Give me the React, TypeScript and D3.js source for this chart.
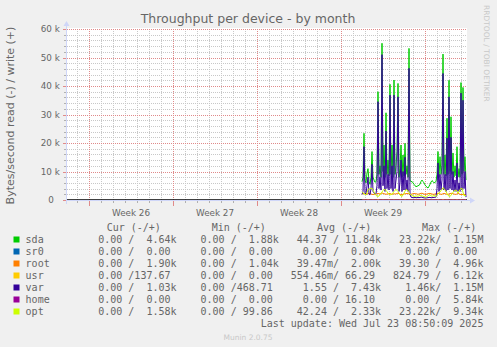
import React from "react";
import * as d3 from "d3";

const W = 497;
const H = 347;

// ---- axis ticks ----
const yTicks = [0, 10000, 20000, 30000, 40000, 50000, 60000];
const yTickLabels = ["0", "10 k", "20 k", "30 k", "40 k", "50 k", "60 k"];
const weekStarts = ["2025-06-23", "2025-06-30", "2025-07-07", "2025-07-14", "2025-07-21"];
const weekLabels = ["Week 26", "Week 27", "Week 28", "Week 29"];

// ---- time range / data sampling ----
const rangeStart = "2025-06-21T04:00:00Z";
const rangeEnd = "2025-07-24T12:00:00Z";
const dataStart = "2025-07-15T18:00:00Z";
const stepHours = 2;

// ---- series values (write, in k bytes/s), one value every 2 hours ----
const sdaWrite = [
  6.4, 8.0, 23.4, 7.0, 6.0, 9.5, 11.0, 6.5, 5.5, 8.0, 17.0, 8.0, 7.0, 6.2, 6.5,
  9.0, 38.0, 9.0, 12.0, 8.0, 55.0, 10.0, 19.3, 8.0, 30.6, 9.0, 14.0, 8.5, 40.6, 9.0,
  19.3, 8.0, 42.1, 9.0, 12.0, 17.0, 40.9, 8.0, 11.0, 19.3, 8.0, 15.8, 8.5, 19.9, 9.0,
  12.0, 8.0, 53.2, 7.0, 6.4, 6.5, 6.0, 5.5, 5.0, 4.7, 4.8, 5.0, 5.2, 5.5, 6.5,
  7.0, 6.5, 6.0, 5.3, 4.8, 4.5, 4.2, 4.8, 5.5, 6.3, 6.8, 6.5, 6.0, 6.2, 6.5,
  9.0, 17.0, 8.0, 15.2, 9.0, 12.0, 51.2, 9.0, 15.8, 8.5, 28.7, 9.0, 42.0, 10.0, 29.2,
  9.0, 16.5, 8.0, 12.0, 8.5, 18.7, 8.0, 11.0, 8.0, 41.2, 9.0, 39.5, 10.0, 15.2, 7.0,
];
const varWrite = [
  2.0, 3.0, 18.7, 2.5, 2.0, 5.0, 8.0, 2.0, 1.8, 4.0, 12.5, 3.0, 2.5, 2.0, 2.2,
  5.0, 34.5, 4.0, 8.0, 3.5, 51.0, 5.0, 12.0, 3.0, 24.2, 4.0, 9.0, 3.5, 36.8, 4.0,
  12.0, 3.0, 36.8, 4.0, 7.0, 10.0, 36.2, 3.0, 6.0, 14.0, 3.0, 10.0, 3.5, 15.0, 3.5,
  7.0, 3.0, 46.2, 2.0, 1.0, 0.9, 0.8, 0.8, 0.9, 0.8, 0.8, 0.9, 0.8, 0.9, 1.0,
  1.0, 0.8, 0.8, 0.7, 0.7, 0.8, 0.8, 0.9, 0.9, 0.8, 0.8, 0.9, 0.9, 1.0, 1.0,
  4.0, 13.0, 3.0, 9.0, 3.5, 7.0, 44.4, 3.5, 9.0, 3.0, 21.7, 3.5, 36.2, 4.0, 22.0,
  3.5, 10.0, 3.0, 7.0, 3.0, 13.0, 3.0, 6.0, 3.0, 37.5, 3.5, 35.0, 4.0, 10.0, 1.0,
];
const optWrite = [
  2.9, 2.5, 2.2, 2.0, 1.8, 2.6, 3.6, 3.9, 4.0, 4.1, 4.1, 3.5, 2.8, 2.2, 1.6,
  1.4, 1.2, 1.5, 1.8, 2.3, 2.8, 3.3, 3.7, 3.6, 3.4, 2.9, 2.4, 2.0, 1.8, 1.9,
  2.0, 2.5, 3.0, 3.4, 3.7, 3.4, 3.0, 2.4, 1.8, 1.4, 1.2, 1.8, 2.4, 3.1, 3.7,
  3.5, 3.2, 2.6, 2.0, 1.8, 1.6, 1.4, 1.2, 1.3, 1.4, 1.4, 1.3, 1.5, 1.6, 1.5,
  1.5, 1.3, 1.2, 1.1, 1.0, 1.2, 1.5, 1.7, 1.8, 1.5, 1.3, 1.4, 1.6, 1.4, 1.2,
  1.7, 2.2, 2.5, 2.8, 3.3, 3.8, 4.3, 4.0, 3.5, 3.0, 2.3, 1.6, 1.4, 1.2, 1.7,
  2.2, 2.7, 3.2, 3.4, 3.5, 3.0, 2.4, 3.0, 3.6, 4.1, 4.1, 2.8, 1.5, 1.6, 1.6,
];
const rootWrite = [
  2.1, 2.2, 2.3, 2.1, 2.0, 2.1, 2.2, 2.4, 2.3, 2.1, 2.0, 1.9, 2.0, 2.1, 2.0,
  2.2, 2.3, 2.2, 2.1, 2.3, 2.5, 2.3, 2.2, 2.1, 2.0, 2.1, 2.1, 2.2, 2.3, 2.1,
  2.0, 2.1, 2.2, 2.1, 2.1, 2.3, 2.4, 2.2, 2.0, 1.9, 1.9, 2.0, 2.1, 2.2, 2.2,
  2.3, 2.3, 2.1, 2.0, 2.0, 2.1, 2.2, 2.3, 2.2, 2.2, 2.1, 2.0, 2.1, 2.2, 2.3,
  2.4, 2.2, 2.1, 2.0, 2.0, 2.1, 2.2, 2.3, 2.3, 2.2, 2.1, 2.0, 2.0, 2.1, 2.2,
  2.3, 2.4, 2.2, 2.1, 2.0, 2.0, 2.2, 2.3, 2.2, 2.1, 2.0, 2.0, 2.1, 2.2, 2.4,
  2.3, 2.2, 2.1, 2.0, 2.0, 2.1, 2.3, 2.2, 2.0, 1.9, 1.9, 2.0, 2.0, 1.9, 1.9,
];
const usrWrite = [
  0.0, 0.0, 0.1, 0.0, 0.0, 0.0, 0.2, 0.0, 0.0, 0.0, 0.0, 0.1, 0.0, 0.0, 0.0,
  0.0, 0.3, 0.0, 0.0, 0.0, 0.0, 0.1, 0.0, 0.0, 0.0, 0.0, 0.0, 0.2, 0.0, 0.0,
  0.0, 0.0, 0.1, 0.0, 0.0, 0.0, 0.0, 0.0, 0.1, 0.0, 0.0, 0.0, 0.0, 0.2, 0.0,
  0.0, 0.0, 0.1, 0.0, 0.0, 0.0, 0.0, 0.0, 0.0, 0.1, 0.0, 0.0, 0.0, 0.0, 0.0,
  0.0, 0.0, 0.0, 0.1, 0.0, 0.0, 0.0, 0.0, 0.0, 0.0, 0.1, 0.0, 0.0, 0.0, 0.0,
  0.0, 0.2, 0.0, 0.0, 0.0, 0.0, 0.3, 0.0, 0.0, 0.0, 0.1, 0.0, 0.0, 0.0, 0.0,
  0.0, 0.1, 0.0, 0.0, 0.0, 0.2, 0.0, 0.0, 0.0, 0.1, 0.0, 0.0, 0.0, 0.0, 0.1,
];
const homeWrite = [
  0.0, 0.0, 0.0, 0.0, 0.0, 0.0, 0.0, 0.0, 0.0, 0.0, 0.0, 0.0, 0.0, 0.0, 0.0,
  0.0, 0.0, 0.0, 0.0, 0.0, 0.0, 0.0, 0.0, 0.0, 0.0, 0.0, 0.0, 0.0, 0.0, 0.0,
  0.0, 0.0, 0.0, 0.0, 0.0, 0.0, 0.0, 0.0, 0.0, 0.0, 0.0, 0.0, 0.0, 0.0, 0.0,
  0.0, 0.0, 0.0, 0.0, 0.0, 0.0, 0.0, 0.0, 0.0, 0.0, 0.0, 0.0, 0.0, 0.0, 0.0,
  0.0, 0.0, 0.0, 0.0, 0.0, 0.0, 0.0, 0.0, 0.0, 0.0, 0.0, 0.0, 0.0, 0.0, 0.0,
  0.0, 0.0, 0.0, 0.0, 0.0, 0.0, 0.0, 0.0, 0.0, 0.0, 0.0, 0.0, 0.0, 0.0, 0.0,
  0.0, 0.0, 0.0, 0.0, 0.0, 0.0, 0.0, 0.0, 0.0, 0.0, 0.0, 0.0, 0.0, 0.0, 0.0,
];

// ---- legend ----
const seriesNames = ["sda", "sr0", "root", "usr", "var", "home", "opt"];
const seriesColors = ["#00cc00", "#0066b3", "#ff8000", "#ffcc00", "#330099", "#990099", "#ccff00"];
const legendHeaders = ["Cur (-/+)", "Min (-/+)", "Avg (-/+)", "Max (-/+)"];
const curValues = ["0.00 /  4.64k", "0.00 /  0.00 ", "0.00 /  1.90k", "0.00 /137.67 ", "0.00 /  1.03k", "0.00 /  0.00 ", "0.00 /  1.58k"];
const minValues = ["0.00 /  1.88k", "0.00 /  0.00 ", "0.00 /  1.04k", "0.00 /  0.00 ", "0.00 /468.71 ", "0.00 /  0.00 ", "0.00 / 99.86 "];
const avgValues = ["44.37 / 11.84k", "0.00 /  0.00 ", "39.47m/  2.00k", "554.46m/ 66.29 ", "1.55 /  7.43k", "0.00 / 16.10 ", "42.24 /  2.33k"];
const maxValues = ["23.22k/  1.15M", "0.00 /  0.00 ", "39.30 /  4.96k", "824.79 /  6.12k", "1.46k/  1.15M", "0.00 /  5.84k", "23.22k/  9.34k"];
const lastUpdate = "Last update: Wed Jul 23 08:50:09 2025";

const FONT = "'DejaVu Sans', Verdana, sans-serif";
const MONO = "'DejaVu Sans Mono', monospace";
const TXT = "#666666";

export default function App() {
  const left = 67, right = 467, top = 29, bottom = 200;
  const x = d3.scaleUtc().domain([new Date(rangeStart), new Date(rangeEnd)]).range([left, right]);
  const y = d3.scaleLinear().domain([0, 60000]).range([bottom, top]);

  const t0 = new Date(dataStart);
  const tAt = (i: number) => d3.utcHour.offset(t0, i * stepHours);
  const line = d3.line<number>().x((_, i) => x(tAt(i))).y((d) => y(d * 1000));

  const days = d3.utcDay.range(new Date(rangeStart), new Date(rangeEnd));
  const mondays = weekStarts.map((s) => new Date(s + "T00:00:00Z"));
  const minorY = d3.range(0, 60001, 2000);

  const series: { data: number[]; color: string }[] = [
    { data: sdaWrite, color: seriesColors[0] },
    { data: rootWrite, color: seriesColors[2] },
    { data: usrWrite, color: seriesColors[3] },
    { data: varWrite, color: seriesColors[4] },
    { data: homeWrite, color: seriesColors[5] },
    { data: optWrite, color: seriesColors[6] },
  ];

  const cw = 6.02;
  const colEnds = [176.5, 278.8, 381.1, 483.4];
  const headerX = [106.7, 211.7, 317, 422];
  const rowBase = 243.3;
  const cols = [curValues, minValues, avgValues, maxValues];

  return (
    <svg width={W} height={H} style={{ display: "block", position: "absolute", left: 0, top: 0 }}>
      <rect x={0} y={0} width={W} height={H} fill="#f0f0f0" />
      <rect x={left} y={top - 1} width={right - left} height={bottom - top + 1} fill="#ffffff" />
      <defs>
        <clipPath id="plot">
          <rect x={left} y={top - 1} width={right - left} height={bottom - top + 1} />
        </clipPath>
      </defs>

      {/* minor grid */}
      {days.map((d, i) => (
        <line key={"vd" + i} x1={Math.round(x(d)) + 0.5} x2={Math.round(x(d)) + 0.5} y1={top} y2={bottom}
          stroke="#c8c8c8" strokeWidth={1} strokeDasharray="1,1" />
      ))}
      {minorY.map((v, i) => (
        <line key={"hm" + i} x1={left} x2={right} y1={Math.round(y(v)) + 0.5} y2={Math.round(y(v)) + 0.5}
          stroke="#c8c8c8" strokeWidth={1} strokeDasharray="1,1" />
      ))}
      {/* major grid */}
      {mondays.map((d, i) => (
        <line key={"vw" + i} x1={Math.round(x(d)) + 0.5} x2={Math.round(x(d)) + 0.5} y1={top} y2={bottom}
          stroke="#e08a8a" strokeWidth={1} strokeDasharray="1,1" />
      ))}
      {yTicks.map((v, i) => (
        <line key={"hM" + i} x1={left} x2={right} y1={Math.round(y(v)) + 0.5} y2={Math.round(y(v)) + 0.5}
          stroke="#e08a8a" strokeWidth={1} strokeDasharray="1,1" />
      ))}

      {/* zero line */}
      <line x1={left} x2={right} y1={bottom} y2={bottom} stroke="#000000" strokeWidth={1.5} />

      {/* data */}
      <g clipPath="url(#plot)">
        {series.map((s, i) => (
          <path key={"s" + i} d={line(s.data) || ""} fill="none" stroke={s.color} strokeWidth={1} />
        ))}
      </g>

      {/* axes */}
      <line x1={left - 0.5} x2={left - 0.5} y1={bottom + 4} y2={top - 5} stroke="#cfd6f8" strokeWidth={1} />
      <path d={`M${left - 3.5},${top - 3} L${left - 0.5},${top - 8} L${left + 2.5},${top - 3} Z`} fill="#cfd6f8" />
      <line x1={left - 2} x2={right + 5} y1={bottom + 0.5} y2={bottom + 0.5} stroke="#cfd6f8" strokeWidth={1} />
      <path d={`M${right + 3},${bottom - 2.5} L${right + 8},${bottom + 0.5} L${right + 3},${bottom + 3.5} Z`} fill="#cfd6f8" />

      {/* x ticks */}
      {days.map((d, i) => (
        <line key={"xt" + i} x1={Math.round(x(d)) + 0.5} x2={Math.round(x(d)) + 0.5} y1={bottom + 1} y2={bottom + 3}
          stroke="#b0b0b0" strokeWidth={1} />
      ))}
      {mondays.map((d, i) => (
        <line key={"xT" + i} x1={Math.round(x(d)) + 0.5} x2={Math.round(x(d)) + 0.5} y1={bottom + 1} y2={bottom + 6}
          stroke="#e08a8a" strokeWidth={1} />
      ))}
      {/* y ticks */}
      {minorY.map((v, i) => (
        <line key={"yt" + i} x1={left - 3} x2={left - 1} y1={Math.round(y(v)) + 0.5} y2={Math.round(y(v)) + 0.5}
          stroke="#b0b0b0" strokeWidth={1} />
      ))}
      {yTicks.map((v, i) => (
        <line key={"yT" + i} x1={left - 4} x2={left - 1} y1={Math.round(y(v)) + 0.5} y2={Math.round(y(v)) + 0.5}
          stroke="#e08a8a" strokeWidth={1} />
      ))}

      {/* y tick labels */}
      {yTicks.map((v, i) => (
        <text key={"yl" + i} x={yTickLabels[i] === "0" ? 53.8 : 59.8} y={y(v) + 3.2} textAnchor="end"
          fontFamily={FONT} fontSize={8.8} fill={TXT}>{yTickLabels[i]}</text>
      ))}
      {/* week labels */}
      {weekLabels.map((l, i) => (
        <text key={"wl" + i} x={x(d3.utcHour.offset(mondays[i], 84))} y={215.5} textAnchor="middle"
          fontFamily={FONT} fontSize={8.8} fill={TXT}>{l}</text>
      ))}

      {/* title */}
      <text x={248} y={22.5} textAnchor="middle" fontFamily={FONT} fontSize={12.5} fill={TXT}>
        Throughput per device - by month
      </text>
      {/* y label */}
      <text transform="translate(14,115.5) rotate(-90)" textAnchor="middle" fontFamily={FONT} fontSize={11} fill={TXT}>
        Bytes/second read (-) / write (+)
      </text>
      {/* watermark */}
      <text transform="translate(484,5) rotate(90)" textAnchor="start" fontFamily={FONT} fontSize={7.5} fill="#c8c8c8">
        RRDTOOL / TOBI OETIKER
      </text>

      {/* legend */}
      {legendHeaders.map((h, i) => (
        <text key={"lh" + i} x={headerX[i]} y={231.3} fontFamily={MONO} fontSize={10} fill={TXT}
          style={{ whiteSpace: "pre" }}>{h}</text>
      ))}
      {seriesNames.map((n, r) => (
        <g key={"lr" + r}>
          <rect x={13.5} y={rowBase + r * 12 - 6.8} width={6} height={6} fill={seriesColors[r]} />
          <text x={25.6} y={rowBase + r * 12} fontFamily={MONO} fontSize={10} fill={TXT}>{n}</text>
          {cols.map((c, ci) => (
            <text key={ci} x={colEnds[ci] - c[r].length * cw} y={rowBase + r * 12} fontFamily={MONO} fontSize={10}
              fill={TXT} style={{ whiteSpace: "pre" }}>{c[r]}</text>
          ))}
        </g>
      ))}
      <text x={colEnds[3] - lastUpdate.length * cw} y={rowBase + 7 * 12} fontFamily={MONO} fontSize={10} fill={TXT}
        style={{ whiteSpace: "pre" }}>{lastUpdate}</text>
      <text x={248} y={339.5} textAnchor="middle" fontFamily={FONT} fontSize={7.5} fill="#c8c8c8">Munin 2.0.75</text>
    </svg>
  );
}
